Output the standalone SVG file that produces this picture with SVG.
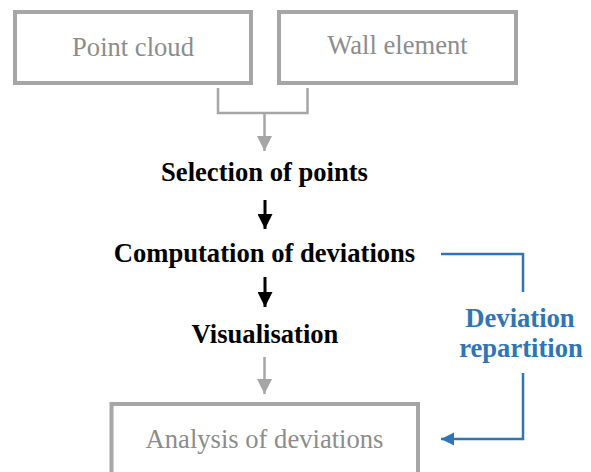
<svg xmlns="http://www.w3.org/2000/svg" width="591" height="472" viewBox="0 0 591 472">
  <style>
    .box { fill: #ffffff; stroke: #a6a6a6; stroke-width: 4; }
    text { font-family: 'Liberation Serif', 'Times New Roman', serif; font-size: 26.6px; text-anchor: middle; }
    .gtext { fill: #8c8c8c; }
    .btext { font-weight: bold; fill: #000000; }
    .bluetext { font-weight: bold; fill: #2e75b6; }
    .gline { fill: none; stroke: #a6a6a6; stroke-width: 2.5; }
    .kline { fill: none; stroke: #000000; stroke-width: 3; }
    .bline { fill: none; stroke: #2e75b6; stroke-width: 2.5; }
  </style>
  <defs>
    <marker id="arrGray" viewBox="0 0 16 16" refX="16" refY="8" markerWidth="15" markerHeight="15" markerUnits="userSpaceOnUse" orient="auto">
      <path d="M0,0 L16,8 L0,16 z" fill="#a6a6a6"/>
    </marker>
    <marker id="arrBlack" viewBox="0 0 16 16" refX="16" refY="8" markerWidth="16" markerHeight="15" markerUnits="userSpaceOnUse" orient="auto">
      <path d="M0,0 L16,8 L0,16 z" fill="#000000"/>
    </marker>
    <marker id="arrBlue" viewBox="0 0 16 16" refX="16" refY="8" markerWidth="13" markerHeight="15" markerUnits="userSpaceOnUse" orient="auto">
      <path d="M0,0 L16,8 L0,16 z" fill="#2e75b6"/>
    </marker>
  </defs>

  <g id="point-cloud">
    <rect class="box" x="15" y="12" width="236" height="71"/>
    <text class="gtext" x="133" y="56">Point cloud</text>
  </g>
  <g id="wall-element">
    <rect class="box" x="279" y="12" width="237" height="71"/>
    <text class="gtext" x="397.5" y="54">Wall element</text>
  </g>
  <g id="selection">
    <text class="btext" x="264.5" y="181">Selection of points</text>
  </g>
  <g id="computation">
    <text class="btext" x="264.5" y="262">Computation of deviations</text>
  </g>
  <g id="visualisation">
    <text class="btext" x="265" y="343">Visualisation</text>
  </g>
  <g id="deviation-repartition">
    <text class="bluetext" x="520" y="327">Deviation</text>
    <text class="bluetext" x="521" y="357">repartition</text>
  </g>
  <g id="analysis">
    <rect class="box" x="111.5" y="404" width="306.5" height="90"/>
    <text class="gtext" x="264.5" y="448">Analysis of deviations</text>
  </g>

  <g id="connectors">
    <path class="gline" d="M218,88 V113 H307.5 V88"/>
    <path class="gline" d="M264.5,113 V151" marker-end="url(#arrGray)"/>
    <path class="kline" d="M265,200 V229" marker-end="url(#arrBlack)"/>
    <path class="kline" d="M265,277 V307" marker-end="url(#arrBlack)"/>
    <path class="gline" d="M264.5,357 V394" marker-end="url(#arrGray)"/>
    <path class="bline" d="M441,254 H523 V292"/>
    <path class="bline" d="M523,373 V439 H441" marker-end="url(#arrBlue)"/>
  </g>
</svg>
